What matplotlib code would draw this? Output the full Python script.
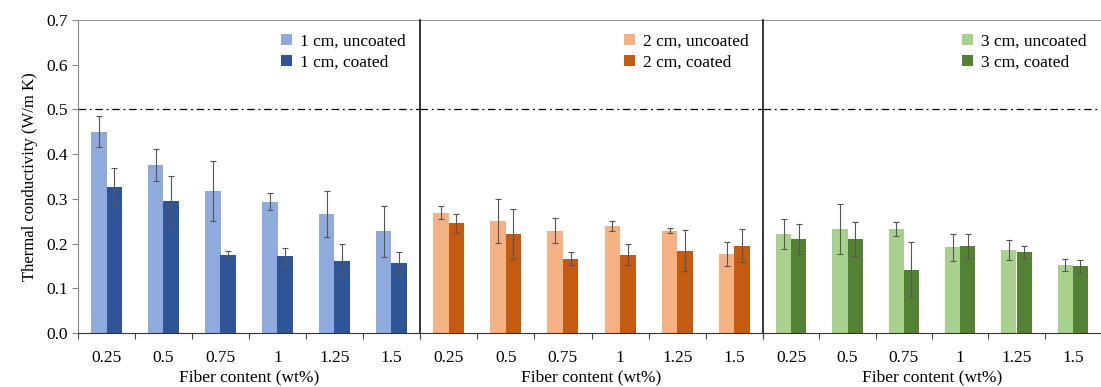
import numpy as np
import matplotlib.pyplot as plt

plt.rcParams['font.family'] = ['Liberation Serif', 'DejaVu Serif']

fiber = ['0.25', '0.5', '0.75', '1', '1.25', '1.5']

# 1 cm fibers
unc_1cm = [0.450, 0.376, 0.318, 0.294, 0.266, 0.227]
unc_1cm_err = [0.035, 0.035, 0.067, 0.020, 0.052, 0.057]
coat_1cm = [0.326, 0.295, 0.175, 0.172, 0.162, 0.157]
coat_1cm_err = [0.044, 0.057, 0.008, 0.019, 0.036, 0.025]

# 2 cm fibers
unc_2cm = [0.269, 0.251, 0.229, 0.239, 0.229, 0.177]
unc_2cm_err = [0.015, 0.049, 0.028, 0.012, 0.005, 0.027]
coat_2cm = [0.245, 0.221, 0.166, 0.175, 0.184, 0.195]
coat_2cm_err = [0.021, 0.056, 0.015, 0.023, 0.046, 0.037]

# 3 cm fibers
unc_3cm = [0.221, 0.233, 0.233, 0.192, 0.186, 0.152]
unc_3cm_err = [0.033, 0.056, 0.016, 0.030, 0.022, 0.014]
coat_3cm = [0.210, 0.211, 0.142, 0.195, 0.181, 0.149]
coat_3cm_err = [0.033, 0.038, 0.061, 0.027, 0.014, 0.015]

panels = [
    ('1 cm', unc_1cm, unc_1cm_err, coat_1cm, coat_1cm_err, '#8FAADC', '#2F5597'),
    ('2 cm', unc_2cm, unc_2cm_err, coat_2cm, coat_2cm_err, '#F4B183', '#C55A11'),
    ('3 cm', unc_3cm, unc_3cm_err, coat_3cm, coat_3cm_err, '#A9D18E', '#548235'),
]

fig = plt.figure(figsize=(11.01, 3.87), dpi=100)

W, H = 1101, 387
edges = [78, 420, 763, 1101]
bottom = 1 - 333 / H
height = (333 - 20) / H

x = np.arange(len(fiber)) + 0.5
bw = 0.27
err_kw = dict(ecolor='#555555', elinewidth=0.8, capsize=2.2, capthick=0.8)

for i, (name, unc, unc_err, coat, coat_err, c_light, c_dark) in enumerate(panels):
    ax = fig.add_axes([edges[i] / W, bottom, (edges[i + 1] - edges[i]) / W, height])
    ax.patch.set_alpha(0)
    ax.bar(x - bw / 2, unc, bw, yerr=unc_err, color=c_light, label=f'{name}, uncoated',
           error_kw=err_kw, zorder=2)
    ax.bar(x + bw / 2, coat, bw, yerr=coat_err, color=c_dark, label=f'{name}, coated',
           error_kw=err_kw, zorder=2)
    ax.axhline(0.5, color='black', lw=0.9, ls=(0, (6, 3, 1.5, 3)), zorder=1)

    ax.set_xlim(0, 6)
    ax.set_ylim(0, 0.7)
    ax.set_xticks(x)
    ax.set_xticklabels(fiber)
    ax.set_xticks(np.arange(0, 7), minor=True)
    ax.tick_params(axis='x', which='major', length=0, labelsize=12.5, pad=12)
    ax.tick_params(axis='x', which='minor', length=4, width=0.8, color='#444444', direction='out')
    ax.set_xlabel('Fiber content (wt%)', fontsize=12.5, labelpad=3)

    ax.spines['top'].set_color('#999999')
    ax.spines['bottom'].set_color('#333333')
    ax.spines['right'].set_visible(False)
    if i == 0:
        ax.spines['left'].set_color('#888888')
        ax.set_yticks(np.arange(0, 0.71, 0.1))
        ax.set_yticklabels([f'{v:.1f}' for v in np.arange(0, 0.71, 0.1)])
        ax.tick_params(axis='y', length=4, color='#888888', labelsize=12.5)
        ax.set_ylabel('Thermal conductivity (W/m K)', fontsize=12, labelpad=6)
    else:
        # panel separator
        ax.spines['left'].set_color('black')
        ax.spines['left'].set_linewidth(1.1)
        ax.spines['left'].set_zorder(5)
        ax.set_yticks([])

    ax.legend(loc='upper right', frameon=False, fontsize=12.5, handlelength=0.6,
              handleheight=0.6, handletextpad=0.5, labelspacing=0.25,
              bbox_to_anchor=(1.0, 1.0), borderaxespad=0.4)

fig.savefig('out.png', dpi=100)
